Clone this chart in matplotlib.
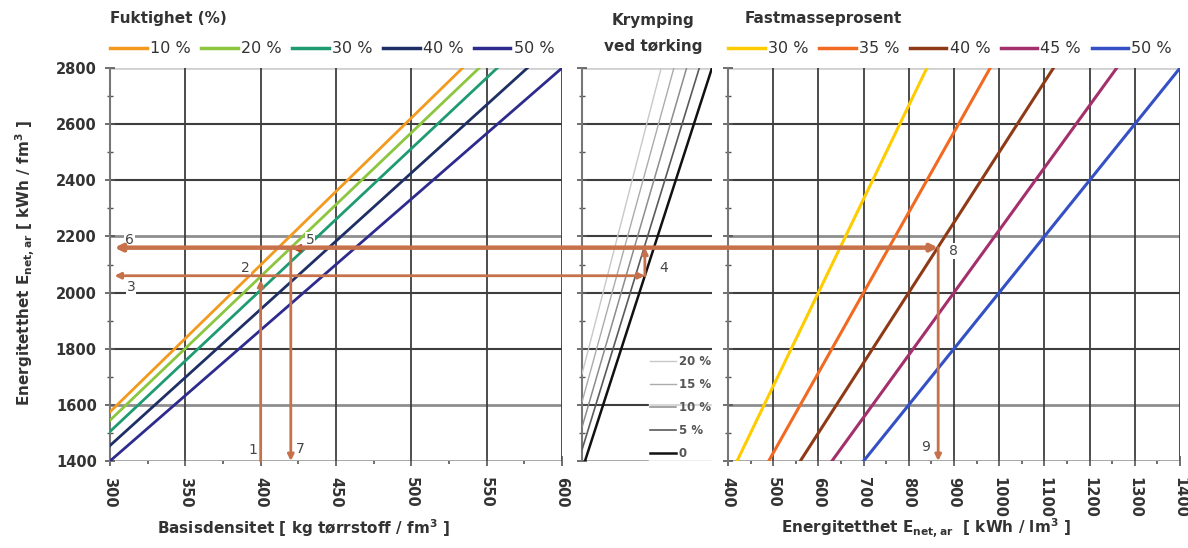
import matplotlib
matplotlib.use("Agg")
import matplotlib.pyplot as plt
from matplotlib.patches import ConnectionPatch
from matplotlib.ticker import MultipleLocator

plt.rcParams['font.family'] = ['DejaVu Sans']
plt.rcParams['mathtext.fontset'] = 'custom'
plt.rcParams['mathtext.rm'] = 'DejaVu Sans:bold'
plt.rcParams['mathtext.it'] = 'DejaVu Sans:bold'
plt.rcParams['mathtext.bf'] = 'DejaVu Sans:bold'

# ---------------- data ----------------
E_min, E_max = 1400, 2800

# Left panel: moisture content lines (energy per fm3 vs basic density)
moist_labels = ['10 %', '20 %', '30 %', '40 %', '50 %']
moist_colors = ['#F39A1E', '#8CC63E', '#1F9B72', '#1E2F66', '#2E2B8E']
moist_rho_start = [300, 300, 300, 300, 300]
moist_E_start = [1575, 1545, 1505, 1455, 1400]
moist_rho_end = [534, 545, 557, 577, 600]
moist_E_end = [2800, 2800, 2800, 2800, 2800]

# Middle panel: shrinkage lines
shrink_labels = ['20 %', '15 %', '10 %', '5 %', '0']
shrink_colors = ['#C8C8C8', '#ABABAB', '#8C8C8C', '#5A5A5A', '#111111']
shrink_lw = [1.0, 1.0, 1.1, 1.2, 1.8]
shrink_x_start = [1367, 1367, 1367, 1367, 1400]
shrink_E_start = [1710, 1610, 1520, 1440, 1400]
shrink_x_end = [2240, 2380, 2520, 2660, 2800]
shrink_E_end = [2800, 2800, 2800, 2800, 2800]

# Right panel: solid-volume percentage lines (kWh/lm3)
solid_labels = ['30 %', '35 %', '40 %', '45 %', '50 %']
solid_colors = ['#FFCC00', '#F26A22', '#8E3A17', '#A3306C', '#3450C4']
solid_x_start = [420, 490, 560, 630, 700]
solid_x_end = [840, 980, 1120, 1260, 1400]

# Worked example path
rho_ex1 = 400
E_ex2 = 2045
E_ex3 = 2060
E_ex6 = 2160
x_ex4 = 2060
rho_ex5 = 424
rho_ex7 = 420
x_ex9 = 865
rho_left_end = 303

num_labels = ['1', '2', '3', '4', '5', '6', '7', '8', '9']

# ---------------- figure ----------------
W, H = 1188, 548
fig = plt.figure(figsize=(W / 100, H / 100), dpi=100)


def box(x0, x1, y_top=68, y_bot=461):
    return [x0 / W, 1 - y_bot / H, (x1 - x0) / W, (y_bot - y_top) / H]


axL = fig.add_axes(box(110, 562))
axM = fig.add_axes(box(582, 712))
axR = fig.add_axes(box(728, 1180))

DARK = '#3E3E3E'
MID = '#8E8E8E'
LIGHT = '#D0D0D0'
TXT = '#333333'
yt = list(range(1400, 2801, 200))


def hgrid(ax, middle=False):
    for y in yt:
        if y == 2800:
            c, lw = LIGHT, 2.0
        elif y in (1600, 2200) and not middle:
            c, lw = MID, 2.0
        elif y == 1400:
            c, lw = MID, 1.8
        else:
            c, lw = DARK, 1.5
        ax.axhline(y, color=c, lw=lw, zorder=1)


for ax in (axL, axM, axR):
    ax.set_ylim(E_min, E_max)
    for s in ('top', 'right', 'bottom'):
        ax.spines[s].set_visible(False)
    ax.spines['left'].set_color('#777777')
    ax.spines['left'].set_linewidth(1.5)
    ax.yaxis.set_major_locator(MultipleLocator(200))
    ax.yaxis.set_minor_locator(MultipleLocator(100))
    ax.tick_params(axis='y', which='major', direction='inout', length=7,
                   width=1.2, color='#555555', pad=6)
    ax.tick_params(axis='y', which='minor', direction='inout', length=4,
                   width=1.0, color='#555555')
    hgrid(ax, middle=(ax is axM))

# Left panel
axL.set_xlim(300, 600)
axL.xaxis.set_major_locator(MultipleLocator(50))
axL.xaxis.set_minor_locator(MultipleLocator(25))
for x in range(350, 601, 50):
    axL.axvline(x, color=DARK, lw=1.3, zorder=1)
for i in range(5):
    axL.plot([moist_rho_start[i], moist_rho_end[i]],
             [moist_E_start[i], moist_E_end[i]],
             color=moist_colors[i], lw=2.0, zorder=3, label=moist_labels[i])

# Middle panel
axM.set_xlim(1367, 2800)
axM.set_xticks([])
for i in range(5):
    axM.plot([shrink_x_start[i], shrink_x_end[i]],
             [shrink_E_start[i], shrink_E_end[i]],
             color=shrink_colors[i], lw=shrink_lw[i], zorder=3,
             label=shrink_labels[i])
axM.tick_params(axis='y', labelleft=False)

# Right panel
axR.set_xlim(400, 1400)
axR.xaxis.set_major_locator(MultipleLocator(100))
axR.xaxis.set_minor_locator(MultipleLocator(50))
for x in range(500, 1401, 100):
    axR.axvline(x, color=DARK, lw=1.3, zorder=1)
for i in range(5):
    axR.plot([solid_x_start[i], solid_x_end[i]], [E_min, E_max],
             color=solid_colors[i], lw=2.2, zorder=3, label=solid_labels[i])
axR.tick_params(axis='y', labelleft=False)

for ax in (axL, axR):
    ax.tick_params(axis='x', which='major', direction='inout', length=7,
                   width=1.2, color='#555555', labelrotation=-90, pad=8)
    ax.tick_params(axis='x', which='minor', direction='out', length=2,
                   width=1.2, color='#555555')
    for lab in ax.get_xticklabels():
        lab.set_fontweight('bold')
        lab.set_fontsize(10.5)
        lab.set_color(TXT)
for lab in axL.get_yticklabels():
    lab.set_fontweight('bold')
    lab.set_fontsize(10.5)
    lab.set_color(TXT)

# Legends
leg_kw = dict(loc='lower left', bbox_to_anchor=(0.0, 1.03), ncol=5,
              frameon=False, borderaxespad=0, borderpad=0,
              handlelength=2.3, handletextpad=0.2, columnspacing=0.65,
              fontsize=11.5)
legL = axL.legend(**leg_kw)
legR = axR.legend(**leg_kw)
for lg in (legL, legR):
    for t in lg.get_texts():
        t.set_color(TXT)
    for hl in lg.get_lines():
        hl.set_linewidth(2.5)
h, l = axM.get_legend_handles_labels()
legM = axM.legend(h, l, loc='lower right', bbox_to_anchor=(1.0, 0.0),
                  frameon=True, fancybox=False, borderaxespad=0,
                  handlelength=2.2, handletextpad=0.2, labelspacing=0.85,
                  prop={'size': 8.5, 'weight': 'bold'}, borderpad=0.1)
legM.get_frame().set_facecolor('white')
legM.get_frame().set_edgecolor('white')
legM.set_zorder(5)
for t in legM.get_texts():
    t.set_color('#555555')

# Titles
fig.text(110 / W, 1 - 18 / H, 'Fuktighet (%)', fontsize=11,
         fontweight='bold', va='center', ha='left', color=TXT)
fig.text(653 / W, 1 - 20 / H, 'Krymping', fontsize=11, fontweight='bold',
         va='center', ha='center', color=TXT)
fig.text(653 / W, 1 - 46 / H, 'ved tørking', fontsize=11,
         fontweight='bold', va='center', ha='center', color=TXT)
fig.text(745 / W, 1 - 18 / H, 'Fastmasseprosent', fontsize=11,
         fontweight='bold', va='center', ha='left', color=TXT)

# Axis labels
fig.text(304 / W, 1 - 528 / H, 'Basisdensitet [ kg tørrstoff / fm$^{3}$ ]',
         fontsize=11, fontweight='bold', ha='center', va='center',
         color=TXT)
fig.text(926 / W, 1 - 528 / H,
         'Energitetthet E$_{net,ar}$  [ kWh / lm$^{3}$ ]',
         fontsize=11, fontweight='bold', ha='center', va='center',
         color=TXT)
fig.text(25 / W, 1 - 263 / H,
         'Energitetthet E$_{net,ar}$ [ kWh / fm$^{3}$ ]',
         fontsize=11, fontweight='bold', ha='center', va='center',
         rotation=90, color=TXT)

# ---------------- worked example ----------------
GUIDE = '#C7714A'
HEAD = '#B8431F'
ap = dict(arrowstyle='-|>', color=GUIDE, lw=2.0, mutation_scale=9,
          shrinkA=0, shrinkB=0)

# 1 -> 2 (vertical up)
axL.annotate('', xy=(rho_ex1, E_ex2), xytext=(rho_ex1, E_min),
             arrowprops=ap, zorder=6, annotation_clip=False)
# 2 -> 3 and -> 4 (horizontal, lower)
c1 = ConnectionPatch(xyA=(x_ex4, E_ex3), coordsA=axM.transData,
                     xyB=(rho_left_end, E_ex3), coordsB=axL.transData,
                     arrowstyle='<|-|>', color=GUIDE, lw=2.0,
                     mutation_scale=9, shrinkA=0, shrinkB=0, zorder=6)
fig.add_artist(c1)
# 4 (vertical up in shrinkage panel)
axM.annotate('', xy=(x_ex4, E_ex6), xytext=(x_ex4, E_ex3),
             arrowprops=ap, zorder=6, annotation_clip=False)
# 6 <- -> 8 (horizontal, upper, thick)
c2 = ConnectionPatch(xyA=(x_ex9, E_ex6), coordsA=axR.transData,
                     xyB=(rho_left_end, E_ex6), coordsB=axL.transData,
                     arrowstyle='<|-|>', color=GUIDE, lw=3.2,
                     mutation_scale=10, shrinkA=0, shrinkB=0, zorder=6)
fig.add_artist(c2)
# 5 marker
axL.plot([rho_ex5], [E_ex6], marker='<', ms=6, color=HEAD, zorder=7)
# 5 -> 7 (vertical down)
axL.annotate('', xy=(rho_ex7, E_min), xytext=(rho_ex7, E_ex6),
             arrowprops=ap, zorder=6, annotation_clip=False)
# 8 -> 9 (vertical down)
axR.annotate('', xy=(x_ex9, E_min), xytext=(x_ex9, E_ex6),
             arrowprops=ap, zorder=6, annotation_clip=False)

# Number labels
lab_kw = dict(fontsize=10, color='#444444', ha='center', va='center',
              zorder=8, bbox=dict(facecolor='white', edgecolor='none',
                                  pad=0.5))
axL.text(395, 1440, num_labels[0], **lab_kw)
axL.text(390, 2087, num_labels[1], **lab_kw)
axL.text(314, 2020, num_labels[2], **lab_kw)
axM.text(2271, 2088, num_labels[3], **lab_kw)
axL.text(433, 2187, num_labels[4], **lab_kw)
axL.text(313, 2187, num_labels[5], **lab_kw)
axL.text(426, 1443, num_labels[6], **lab_kw)
axR.text(898, 2148, num_labels[7], **lab_kw)
axR.text(836, 1450, num_labels[8], **lab_kw)

fig.savefig('out.png', dpi=100)
